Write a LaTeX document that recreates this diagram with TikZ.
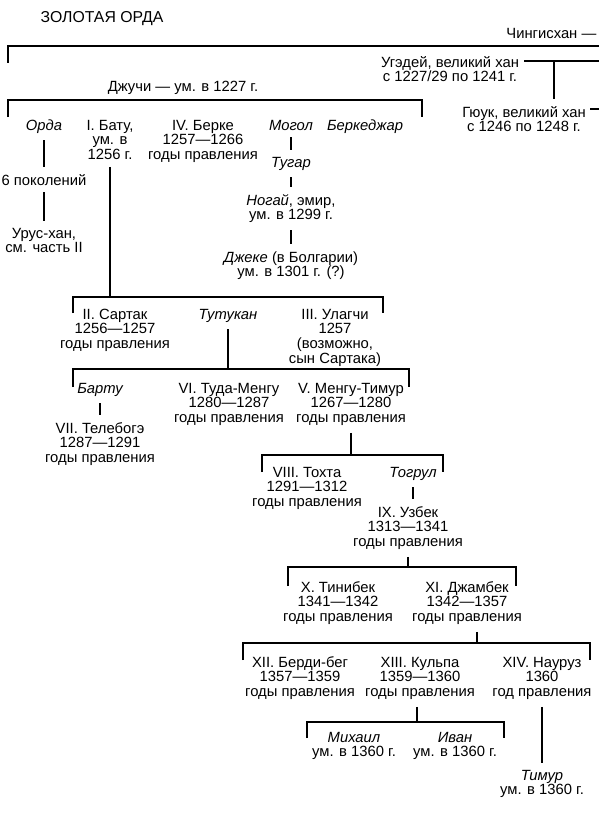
\documentclass[tikz,border=0pt]{standalone}
\usepackage{fontspec}
\setmainfont{Liberation Sans}
\usetikzlibrary{positioning, calc}

\begin{document}
\begin{tikzpicture}[
        x=1pt, y=-1pt,
        khan/.style={anchor=base, align=center, inner xsep=4.5pt, inner ysep=7pt, font=\fontsize{14.8}{14.8}\selectfont},
        kin/.style={khan, font=\fontsize{14.8}{14.8}\selectfont\itshape},
        link/.style={line width=2pt, line join=miter}
    ]
    \useasboundingbox (0,0) rectangle (599,815);

    \node[khan, anchor=base west, font=\fontsize{15.8}{18}\selectfont] (title) at (36,22) {ЗОЛОТАЯ ОРДА};

    % Chingis and the great khans (base = last line)
    \node[khan, anchor=base east] (chingis) at (601,38) {Чингисхан —};
    \node[khan] (ugedei) at (450,81.8) {Угэдей, великий хан\\с 1227/29 по 1241 г.};
    \node[khan] (guyuk) at (524,131.8) {Гюук, великий хан\\с 1246 по 1248 г.};
    \coordinate (chR) at (599,46);
    \coordinate (chL) at (8,46);
    \coordinate (ugR) at (599,61);
    \coordinate (ugJ) at (554,61);
    \coordinate (guR) at (599,109);
    \draw[link] (chR) -- (chL) -- ([yshift=-17pt]chL);
    \draw[link] (ugR) -- (ugR -| ugedei.east);
    \draw[link] (ugJ) -- (ugJ |- guyuk.north);
    \draw[link] (guR) -- (guR -| guyuk.east);

    % Jochi
    \node[khan] (jochi) at (183,91) {Джучи — ум. в 1227 г.};
    \coordinate (jL) at (8,100);
    \coordinate (jR) at (422,100);
    \draw[link] ([yshift=-17pt]jL) -- (jL) -- (jR) -- ([yshift=-17pt]jR);

    \node[kin] (orda) at (44,130) {Орда};
    \node[khan] (batu) at (110,159.6) {I. Бату,\\ум. в\\1256 г.};
    \node[khan] (berke) at (203,159.6) {IV. Берке\\1257—1266\\годы правления};
    \node[kin] (mogol) at (291,130) {Могол};
    \node[kin] (berkejar) at (365,130) {Беркеджар};

    \node[khan] (pokol) at (44,185) {6 поколений};
    \node[khan] (urus) at (44,252.8) {Урус-хан,\\см. часть II};
    \draw[link] (orda) -- (pokol);
    \draw[link] (pokol) -- (urus);

    \node[kin] (tugar) at (291,167) {Тугар};
    \node[khan] (nogai) at (291,219.8) {\textit{Ногай}, эмир,\\ум. в 1299 г.};
    \node[khan] (jeke) at (291,276.8) {\textit{Джеке} (в Болгарии)\\ум. в 1301 г. (?)};
    \draw[link] (mogol) -- (tugar);
    \draw[link] (tugar) -- (nogai);
    \draw[link] (nogai) -- (jeke);

    % Batu
    \coordinate (bL) at (73,297);
    \coordinate (bR) at (383,297);
    \draw[link] (batu) -- (batu |- bL);
    \draw[link] ([yshift=-16pt]bL) -- (bL) -- (bR) -- ([yshift=-16pt]bR);

    \node[khan] (sartak) at (115,348.6) {II. Сартак\\1256—1257\\годы правления};
    \node[kin] (tutukan) at (228,319) {Тутукан};
    \node[khan] (ulagchi) at (335,363.4) {III. Улагчи\\1257\\(возможно,\\сын Сартака)};

    % Tutukan
    \coordinate (tL) at (73,369);
    \coordinate (tR) at (409,369);
    \draw[link] (tutukan) -- (tutukan |- tL);
    \draw[link] ([yshift=-18pt]tL) -- (tL) -- (tR) -- ([yshift=-18pt]tR);

    \node[kin] (bartu) at (100,393) {Барту};
    \node[khan] (tuda) at (229,422.6) {VI. Туда-Менгу\\1280—1287\\годы правления};
    \node[khan] (mengu) at (351,422.6) {V. Менгу-Тимур\\1267—1280\\годы правления};
    \node[khan] (telebuga) at (100,462.6) {VII. Телебогэ\\1287—1291\\годы правления};
    \draw[link] (bartu) -- (telebuga);

    % Mengu-Timur
    \coordinate (mL) at (262,455);
    \coordinate (mR) at (443,455);
    \draw[link] (mengu) -- (mengu |- mL);
    \draw[link] ([yshift=-17pt]mL) -- (mL) -- (mR) -- ([yshift=-17pt]mR);

    \node[khan] (tokhta) at (307,506.6) {VIII. Тохта\\1291—1312\\годы правления};
    \node[kin] (togrul) at (413,477) {Тогрул};
    \node[khan] (uzbek) at (408,546.6) {IX. Узбек\\1313—1341\\годы правления};
    \draw[link] (togrul) -- (togrul |- uzbek.north);

    % Uzbek
    \coordinate (uL) at (288,567);
    \coordinate (uR) at (516,567);
    \draw[link] (uzbek) -- (uzbek |- uL);
    \draw[link] ([yshift=-19pt]uL) -- (uL) -- (uR) -- ([yshift=-19pt]uR);

    \node[khan] (tinibek) at (338,621.6) {X. Тинибек\\1341—1342\\годы правления};
    \node[khan] (jambek) at (467,621.6) {XI. Джамбек\\1342—1357\\годы правления};

    % Jambek
    \coordinate (jbK) at (477,643);
    \coordinate (jbL) at (243,643);
    \coordinate (jbR) at (590,643);
    \draw[link] (jambek.south -| jbK) -- (jbK);
    \draw[link] ([yshift=-17pt]jbL) -- (jbL) -- (jbR) -- ([yshift=-17pt]jbR);

    \node[khan] (berdibeg) at (300,696.6) {XII. Берди-бег\\1357—1359\\годы правления};
    \node[khan] (kulpa) at (420,696.6) {XIII. Кульпа\\1359—1360\\годы правления};
    \node[khan] (nauruz) at (542,696.6) {XIV. Науруз\\1360\\год правления};

    % Kulpa
    \coordinate (kK) at (417,722);
    \coordinate (kL) at (307,722);
    \coordinate (kR) at (504,722);
    \draw[link] (kulpa.south -| kK) -- (kK);
    \draw[link] ([yshift=-16pt]kL) -- (kL) -- (kR) -- ([yshift=-16pt]kR);

    \node[khan] (mikhail) at (354,756.8) {\textit{Михаил}\\ум. в 1360 г.};
    \node[khan] (ivan) at (455,756.8) {\textit{Иван}\\ум. в 1360 г.};

    % Nauruz
    \node[khan] (timur) at (542,794.8) {\textit{Тимур}\\ум. в 1360 г.};
    \draw[link] (nauruz) -- (timur);
\end{tikzpicture}
\end{document}
